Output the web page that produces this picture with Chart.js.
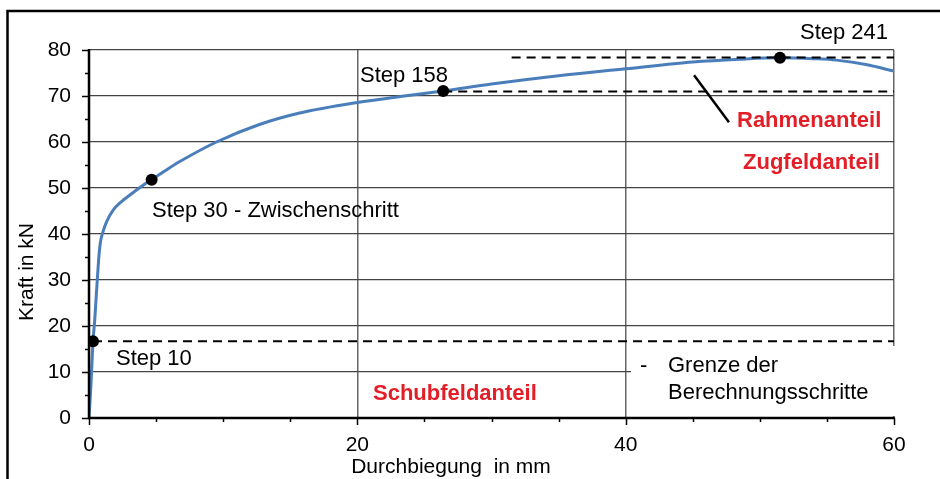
<!DOCTYPE html>
<html>
<head>
<meta charset="utf-8">
<script src="https://cdn.jsdelivr.net/npm/chart.js@4"></script>
<style>
html,body{margin:0;padding:0;background:#fff;}
#wrap{width:940px;height:479px;position:relative;}
</style>
</head>
<body>
<div id="wrap"><canvas id="c" width="940" height="479"></canvas></div>
<script>
// ---- data ----
const curveX = [0, 0.15, 0.3, 0.42, 0.55, 0.65, 0.75, 0.85, 1.0, 1.3, 1.8, 2.4, 3.2, 3.7, 4.67, 5.7, 6.8, 9.5, 12.7, 15.7, 20, 23.5, 26.4, 30, 35, 40, 45, 48.5, 51.5, 54, 55.7, 58, 60];
const curveY = [0, 7.5, 16.7, 21, 27, 31.5, 35.5, 38.2, 40.1, 42.6, 45.2, 47.0, 48.8, 49.9, 51.8, 53.8, 55.8, 60.0, 63.8, 66.3, 68.6, 70.0, 71.1, 72.6, 74.4, 75.9, 77.4, 78.0, 78.3, 78.1, 77.8, 76.8, 75.4];
const stepLabels = ["Step 10", "Step 30", "Step 158", "Step 241"];
const stepX = [0.3, 4.67, 26.4, 51.5];
const stepY = [16.7, 51.8, 71.1, 78.3];
const limitStartX = [0.3, 26.4, 31.5];
const limitEndX = [60, 60, 60];
const limitY = [16.7, 71.0, 78.35];
const leaderX = [45.1, 47.7];
const leaderY = [74.5, 64.3];
const xTicks = [0, 20, 40, 60];
const yTicks = [0, 10, 20, 30, 40, 50, 60, 70, 80];

const FONT = "'Liberation Sans', Arial, sans-serif";
const RED = '#E31E26';

const datasets = [];
datasets.push({
  label: 'Kraft-Durchbiegung',
  data: curveX.map((x, i) => ({x, y: curveY[i]})),
  showLine: true, borderColor: '#4A7EBB', borderWidth: 3,
  pointRadius: 0, cubicInterpolationMode: 'monotone', order: 3
});
limitY.forEach((y, i) => datasets.push({
  label: 'Grenze ' + i,
  data: [{x: limitStartX[i], y}, {x: limitEndX[i], y}],
  showLine: true, borderColor: '#000', borderWidth: 2, borderDash: [9, 6],
  pointRadius: 0, order: 2
}));
datasets.push({
  label: 'Leader',
  data: leaderX.map((x, i) => ({x, y: leaderY[i]})),
  showLine: true, borderColor: '#000', borderWidth: 2.5, pointRadius: 0, order: 2
});
datasets.push({
  label: 'Steps',
  data: stepX.map((x, i) => ({x, y: stepY[i]})),
  showLine: false, pointRadius: 6, pointBackgroundColor: '#000', pointBorderColor: '#000',
  pointBorderWidth: 0, order: 1
});

const deco = {
  id: 'deco',
  beforeDatasetsDraw(chart) {
    const ctx = chart.ctx;
    // white text box behind the "Grenze der Berechnungsschritte" label
    ctx.save();
    ctx.fillStyle = '#fff';
    ctx.fillRect(631, 346, 270, 70);
    ctx.restore();
  },
  afterDraw(chart) {
    const ctx = chart.ctx;
    const xs = chart.scales.x, ys = chart.scales.y;
    const a = chart.chartArea;
    ctx.save();
    // axes lines
    ctx.strokeStyle = '#000';
    ctx.lineWidth = 2.5;
    ctx.beginPath();
    ctx.moveTo(a.left, a.top - 1); ctx.lineTo(a.left, a.bottom);
    ctx.lineTo(a.right + 1, a.bottom);
    ctx.stroke();
    // tick marks
    ctx.lineWidth = 1.5;
    for (let v = 0; v <= 80; v += 5) {
      const py = Math.round(ys.getPixelForValue(v)) + 0.5;
      const len = v % 10 === 0 ? 7 : 4;
      ctx.beginPath(); ctx.moveTo(a.left - len, py); ctx.lineTo(a.left, py); ctx.stroke();
    }
    for (let v = 0; v <= 60; v += 5) {
      const px = Math.round(xs.getPixelForValue(v)) + 0.5;
      const len = v % 20 === 0 ? 7 : 4;
      ctx.beginPath(); ctx.moveTo(px, a.bottom); ctx.lineTo(px, a.bottom + len); ctx.stroke();
    }
    // outer frame
    ctx.lineWidth = 2.5;
    ctx.strokeRect(7.5, 11, 960, 520);
    // axis titles
    ctx.fillStyle = '#000';
    ctx.font = '21px ' + FONT;
    ctx.textBaseline = 'middle';
    ctx.textAlign = 'center';
    ctx.fillText('Durchbiegung  in mm', 451, 467);
    ctx.save();
    ctx.translate(27, 272);
    ctx.rotate(-Math.PI / 2);
    ctx.fillText('Kraft in kN', 0, 0);
    ctx.restore();
    // annotations
    ctx.textAlign = 'left';
    ctx.font = '22px ' + FONT;
    ctx.fillStyle = '#000';
    ctx.fillText('Step 241', 800, 33);
    ctx.fillText('Step 158', 360, 76);
    ctx.fillText('Step 30 - Zwischenschritt', 152, 211);
    ctx.fillText('Step 10', 116, 359);
    ctx.fillText('-', 640, 366);
    ctx.fillText('Grenze der', 668, 366);
    ctx.fillText('Berechnungsschritte', 668, 393);
    ctx.font = 'bold 22px ' + FONT;
    ctx.fillStyle = RED;
    ctx.fillText('Rahmenanteil', 737, 121);
    ctx.fillText('Zugfeldanteil', 743, 163);
    ctx.fillText('Schubfeldanteil', 373, 394);
    ctx.restore();
  }
};

new Chart(document.getElementById('c'), {
  type: 'scatter',
  data: {datasets},
  options: {
    responsive: false,
    devicePixelRatio: 1,
    animation: false,
    layout: {padding: {left: 0, right: 46, top: 50, bottom: 0}},
    plugins: {legend: {display: false}, tooltip: {enabled: false}},
    scales: {
      x: {
        type: 'linear', min: 0, max: 60,
        afterFit: s => { s.height = 61; },
        afterBuildTicks: s => { s.ticks = xTicks.map(v => ({value: v})); },
        grid: {color: c => (c.tick && c.tick.value > 0 ? '#666' : 'transparent'), lineWidth: 1.5, drawTicks: false},
        border: {display: false},
        ticks: {color: '#000', font: {family: FONT, size: 21}, padding: 15}
      },
      y: {
        type: 'linear', min: 0, max: 80,
        afterFit: s => { s.width = 89; },
        afterBuildTicks: s => { s.ticks = yTicks.map(v => ({value: v})); },
        grid: {color: c => (c.tick && c.tick.value > 0 ? '#444' : 'transparent'), lineWidth: 1.2, drawTicks: false},
        border: {display: false},
        ticks: {color: '#000', font: {family: FONT, size: 21}, padding: 18}
      }
    }
  },
  plugins: [deco]
});
</script>
</body>
</html>
